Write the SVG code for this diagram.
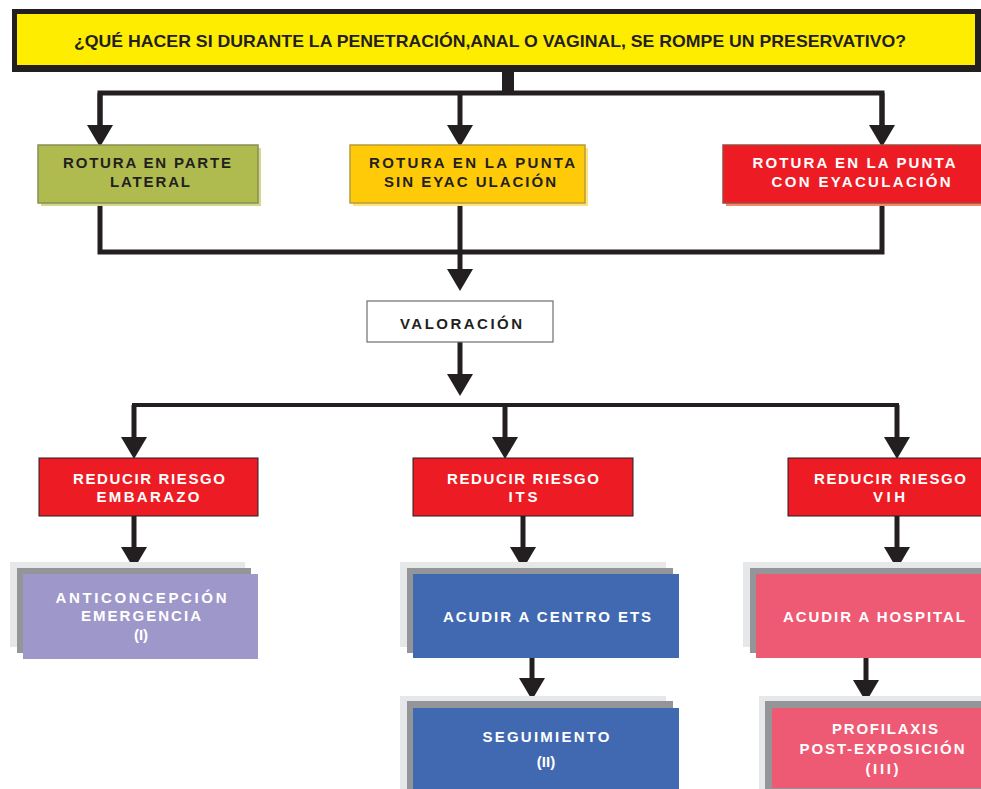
<svg xmlns="http://www.w3.org/2000/svg" width="981" height="789" viewBox="0 0 981 789">
<style>
.t{font-family:"Liberation Sans",Arial,sans-serif;font-weight:700;font-size:15px;text-anchor:middle}
.w{fill:#ffffff}
.d{fill:#231f20}
.c{fill:none;stroke:#231f20;stroke-width:5}
.c4{fill:none;stroke:#231f20;stroke-width:4}
.g1{fill:#e6e7e8}
.g2{fill:#939598}
</style>
<defs>
<marker id="ah" markerUnits="userSpaceOnUse" markerWidth="24" markerHeight="26" refX="0" refY="13" orient="auto">
<path d="M0,0 L22,13 L0,26 z" fill="#231f20"/>
</marker>
</defs>
<rect width="981" height="789" fill="#ffffff"/>

<g id="connectors">
<rect x="502" y="66" width="12" height="26" fill="#231f20"/>
<path class="c" d="M100,127 V93 H882 V127"/>
<path class="c" d="M460,93 V125" marker-end="url(#ah)"/>
<path class="c" d="M100,93 V125" marker-end="url(#ah)"/>
<path class="c" d="M882,93 V125" marker-end="url(#ah)"/>
<path class="c" d="M100,203 V252 H882 V203"/>
<path class="c" d="M460,203 V269" marker-end="url(#ah)"/>
<path class="c" d="M460,342 V374" marker-end="url(#ah)"/>
<path class="c4" d="M134,438 V405 H897 V438"/>
<path class="c" d="M134,405 V437" marker-end="url(#ah)"/>
<path class="c" d="M505,405 V437" marker-end="url(#ah)"/>
<path class="c" d="M897,405 V437" marker-end="url(#ah)"/>
<path class="c" d="M134,516 V547" marker-end="url(#ah)"/>
<path class="c" d="M523,516 V547" marker-end="url(#ah)"/>
<path class="c" d="M897,516 V547" marker-end="url(#ah)"/>
<path class="c" d="M532,658 V678" marker-end="url(#ah)"/>
<path class="c" d="M866,658 V680" marker-end="url(#ah)"/>
</g>

<g id="titulo">
<rect x="12" y="9" width="969" height="63" fill="#231f20"/>
<rect x="17" y="14" width="958" height="51" fill="#ffed00"/>
<text class="t d" x="490" y="47" style="font-size:17px" textLength="832" lengthAdjust="spacingAndGlyphs">¿QUÉ HACER SI DURANTE LA PENETRACIÓN,ANAL O VAGINAL, SE ROMPE UN PRESERVATIVO?</text>
</g>

<g id="lateral">
<rect x="41" y="148" width="220" height="58" fill="#d3d98c"/>
<rect x="38" y="145" width="220" height="58" fill="#afbb4e" stroke="#8a8d55" stroke-width="1.5"/>
<text class="t d" x="147" y="168" textLength="168">ROTURA EN PARTE</text>
<text class="t d" x="150" y="187" textLength="80">LATERAL</text>
</g>

<g id="sin-eyaculacion">
<rect x="353" y="148" width="235" height="58" fill="#ffe27a"/>
<rect x="350" y="145" width="235" height="58" fill="#ffcb08" stroke="#b59c3e" stroke-width="1.5"/>
<text class="t d" x="472" y="168" textLength="206">ROTURA EN LA PUNTA</text>
<text class="t d" x="470" y="187" textLength="172">SIN EYAC ULACIÓN</text>
</g>

<g id="con-eyaculacion">
<rect x="726" y="148" width="258" height="58" fill="#f5876f"/>
<rect x="723" y="145" width="260" height="58" fill="#ed1c24" stroke="#9e4a3c" stroke-width="1.5"/>
<text class="t w" x="854" y="168" textLength="203">ROTURA EN LA PUNTA</text>
<text class="t w" x="861" y="187" textLength="179">CON EYACULACIÓN</text>
</g>

<g id="valoracion">
<rect x="367" y="301" width="186" height="41" fill="#ffffff" stroke="#6d6e71" stroke-width="1.2"/>
<text class="t d" x="461" y="329" textLength="122">VALORACIÓN</text>
</g>

<g id="riesgo-embarazo">
<rect x="39" y="458" width="219" height="58" fill="#ed1c24" stroke="#231f20" stroke-width="1"/>
<text class="t w" x="149" y="484" textLength="152">REDUCIR RIESGO</text>
<text class="t w" x="148" y="502" textLength="103">EMBARAZO</text>
</g>

<g id="riesgo-its">
<rect x="413" y="458" width="220" height="58" fill="#ed1c24" stroke="#231f20" stroke-width="1"/>
<text class="t w" x="523" y="484" textLength="152">REDUCIR RIESGO</text>
<text class="t w" x="523" y="502" textLength="29">ITS</text>
</g>

<g id="riesgo-vih">
<rect x="788" y="458" width="196" height="58" fill="#ed1c24" stroke="#231f20" stroke-width="1"/>
<text class="t w" x="890" y="484" textLength="152">REDUCIR RIESGO</text>
<text class="t w" x="889" y="502" textLength="32">VIH</text>
</g>

<g id="anticoncepcion">
<rect class="g1" x="10" y="562" width="235" height="85"/>
<rect class="g2" x="17" y="568" width="234" height="85"/>
<rect x="23" y="574" width="235" height="85" fill="#9e97c9"/>
<text class="t w" x="141" y="603" textLength="171">ANTICONCEPCIÓN</text>
<text class="t w" x="141" y="621" textLength="120">EMERGENCIA</text>
<text class="t w" x="141" y="640">(I)</text>
</g>

<g id="centro-ets">
<rect class="g1" x="400" y="562" width="266" height="85"/>
<rect class="g2" x="407" y="568" width="266" height="85"/>
<rect x="413" y="574" width="266" height="84" fill="#4169b2"/>
<text class="t w" x="547" y="622" textLength="208">ACUDIR A CENTRO ETS</text>
</g>

<g id="seguimiento">
<rect class="g1" x="400" y="696" width="266" height="93"/>
<rect class="g2" x="407" y="701" width="266" height="88"/>
<rect x="413" y="708" width="266" height="81" fill="#4169b2"/>
<text class="t w" x="546" y="742" textLength="127">SEGUIMIENTO</text>
<text class="t w" x="546" y="767">(II)</text>
</g>

<g id="hospital">
<rect class="g1" x="743" y="562" width="238" height="85"/>
<rect class="g2" x="750" y="568" width="231" height="85"/>
<rect x="756" y="574" width="225" height="84" fill="#ee5a73"/>
<text class="t w" x="874" y="622" textLength="182">ACUDIR A HOSPITAL</text>
</g>

<g id="profilaxis">
<rect class="g1" x="759" y="696" width="222" height="93"/>
<rect class="g2" x="765" y="701" width="216" height="88"/>
<rect x="772" y="708" width="209" height="80" fill="#ee5a73"/>
<text class="t w" x="885" y="734" textLength="106">PROFILAXIS</text>
<text class="t w" x="882" y="754" textLength="165">POST-EXPOSICIÓN</text>
<text class="t w" x="882" y="774" textLength="33">(III)</text>
</g>
</svg>
